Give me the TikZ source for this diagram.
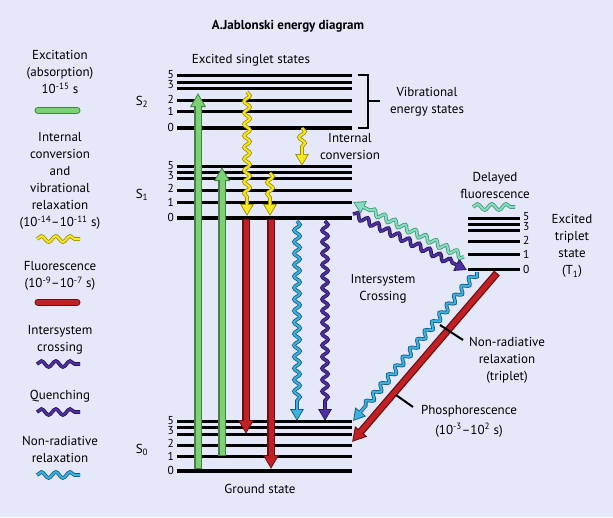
\documentclass[tikz,border=0pt]{standalone}
\usepackage{fontspec}
\setmainfont{PT Sans}
\usepackage{tikz}
\usetikzlibrary{arrows.meta,decorations.pathmorphing}

\definecolor{bgc}{RGB}{228,232,248}
\definecolor{greenC}{RGB}{126,208,116}
\definecolor{greenD}{RGB}{66,130,66}
\definecolor{yellC}{RGB}{246,232,30}
\definecolor{yellD}{RGB}{160,140,0}
\definecolor{redC}{RGB}{192,32,38}
\definecolor{redD}{RGB}{105,15,15}
\definecolor{purC}{RGB}{78,48,160}
\definecolor{purD}{RGB}{38,20,88}
\definecolor{cyanC}{RGB}{60,178,225}
\definecolor{cyanD}{RGB}{20,88,128}
\definecolor{mintC}{RGB}{135,222,190}
\definecolor{mintD}{RGB}{60,150,118}

\tikzset{
	level/.style={line width=3pt},
	zero/.style={line width=4pt},
	num/.style={anchor=east, inner sep=0pt, font=\fontsize{11.5}{12}\selectfont},
	txt/.style={align=center, inner sep=0pt, font=\fontsize{13}{17}\selectfont},
	beamO/.style={draw=#1D, line width=7.5pt, -{Triangle[width=15pt,length=14pt]}},
	beamI/.style={draw=#1C, line width=5pt, shorten <=1.2pt, shorten >=1.8pt, -{Triangle[width=11.5pt,length=11pt]}},
	wavy/.style={decorate, decoration={snake, amplitude=3pt, segment length=11.5pt, post length=15pt}},
	waveO/.style={draw=#1D, line width=3.6pt, wavy, -{Triangle[width=13pt,length=12pt]}},
	waveI/.style={draw=#1C, line width=2pt, wavy, shorten >=1.6pt, -{Triangle[width=10pt,length=9.5pt]}},
	legwave/.style={decorate, decoration={snake, amplitude=3pt, segment length=14.3pt}},
	legO/.style={draw=#1D, line width=3.6pt, legwave},
	legI/.style={draw=#1C, line width=2pt, legwave},
	barO/.style={draw=#1D, line width=7pt, line cap=round},
	barI/.style={draw=#1C, line width=5pt, line cap=round},
	leader/.style={line width=2pt}
}

\begin{document}
\begin{tikzpicture}[x=1pt, y=-1pt]
	\fill[bgc] (0,0) rectangle (613,517);
	\useasboundingbox (0,0) rectangle (613,517);

	\node[txt, font=\bfseries\fontsize{13}{15}\selectfont] (title) at (288,26) {A.Jablonski energy diagram};

	% legend
	\node[txt] (lexc) at (60,72) {Excitation\\(absorption)\\10\textsuperscript{-15} s};
	\coordinate (lg1a) at (38,110); \coordinate (lg1b) at (77,110);
	\node[txt] (lic) at (60,181) {Internal\\conversion\\and\\vibrational\\relaxation\\(10\textsuperscript{-14}–10\textsuperscript{-11} s)};
	\coordinate (lg2a) at (37,239); \coordinate (lg2b) at (80,239);
	\node[txt] (lfl) at (60,276) {Fluorescence\\(10\textsuperscript{-9}–10\textsuperscript{-7} s)};
	\coordinate (lg3a) at (38,302); \coordinate (lg3b) at (77,302);
	\node[txt] (lisc) at (60,340) {Intersystem\\crossing};
	\coordinate (lg4a) at (37,364); \coordinate (lg4b) at (80,364);
	\node[txt] (lqu) at (60,396) {Quenching};
	\coordinate (lg5a) at (37,412); \coordinate (lg5b) at (80,412);
	\node[txt] (lnr) at (60,449.5) {Non-radiative\\relaxation};
	\coordinate (lg6a) at (37,475); \coordinate (lg6b) at (80,475);

	\draw[barO=green] (lg1a) -- (lg1b); \draw[barI=green] (lg1a) -- (lg1b);
	\draw[legO=yell] (lg2a) -- (lg2b); \draw[legI=yell] (lg2a) -- (lg2b);
	\draw[barO=red] (lg3a) -- (lg3b); \draw[barI=red] (lg3a) -- (lg3b);
	\draw[legO=pur] (lg4a) -- (lg4b); \draw[legI=pur] (lg4a) -- (lg4b);
	\draw[legO=pur] (lg5a) -- (lg5b); \draw[legI=pur] (lg5a) -- (lg5b);
	\draw[legO=cyan] (lg6a) -- (lg6b); \draw[legI=cyan] (lg6a) -- (lg6b);

	% singlet levels
	\foreach \y in {75.7,82.3,88.3,100.7,111.7,166.7,172.3,178.3,190.7,202.3,421.7,427.5,434,445,456.7}
		\draw[level] (177,\y) -- (352,\y);
	\foreach \y in {127.7,217.5,470.7}
		\draw[zero] (177,\y) -- (352,\y);
	% triplet levels
	\foreach \y in {218.3,224,230,241.7,254}
		\draw[level] (468,\y) -- (520,\y);
	\draw[level] (468,269.3) -- (520,269.3);

	\foreach \n/\y in {5/74.5,3/85,2/99.5,1/111.7,0/127.7}
		\node[num] (s2n\n) at (174,\y) {\n};
	\foreach \n/\y in {5/165.5,3/175.5,2/188.5,1/202.3,0/217.5}
		\node[num] (s1n\n) at (174,\y) {\n};
	\foreach \n/\y in {5/420.5,3/430.5,2/443.5,1/456.7,0/470.7}
		\node[num] (s0n\n) at (174,\y) {\n};
	\foreach \n/\y in {5/217,3/227,2/240.5,1/254,0/269.3}
		\node[num, anchor=west] (t1n\n) at (523,\y) {\n};

	\node[txt] (s2) at (142,102) {S\textsubscript{2}};
	\node[txt] (s1) at (142,195) {S\textsubscript{1}};
	\node[txt] (s0) at (142,450) {S\textsubscript{0}};

	\node[txt] (singlet) at (251,60) {Excited singlet states};
	\node[txt] (ground) at (260,489) {Ground state};
	\node[txt] (vib) at (427,102) {Vibrational\\energy states};
	\node[txt] (ic) at (350,147) {Internal\\conversion};
	\node[txt] (dfl) at (495,185) {Delayed\\fluorescence};
	\node[txt] (trip) at (572,246) {Excited\\triplet\\state\\(T\textsubscript{1})};
	\node[txt] (isc) at (383,289) {Intersystem\\Crossing};
	\node[txt] (nrt) at (507,360) {Non-radiative\\relaxation\\(triplet)};
	\node[txt] (phos) at (469,421) {Phosphorescence\\[3pt](10\textsuperscript{-3}–10\textsuperscript{2} s)};

	% bracket
	\draw[line width=2.2pt] (358,75) -- (368,75) -- (368,128) -- (358,128);
	\draw[line width=2.2pt] (368,101) -- (380,101);

	% delayed fluorescence sample
	\coordinate (dfa) at (473,207); \coordinate (dfb) at (515,207);
	\draw[legO=mint] (dfa) -- (dfb); \draw[legI=mint] (dfa) -- (dfb);

	% absorption and fluorescence
	\coordinate (g1a) at (198,469); \coordinate (g1b) at (198,93);
	\coordinate (g2a) at (222,456); \coordinate (g2b) at (222,167);
	\coordinate (r1a) at (246,219); \coordinate (r1b) at (246,434);
	\coordinate (r2a) at (271,219); \coordinate (r2b) at (271,469);
	\draw[beamO=green] (g1a) -- (g1b); \draw[beamI=green] (g1a) -- (g1b);
	\draw[beamO=green] (g2a) -- (g2b); \draw[beamI=green] (g2a) -- (g2b);
	\draw[beamO=red] (r1a) -- (r1b); \draw[beamI=red] (r1a) -- (r1b);
	\draw[beamO=red] (r2a) -- (r2b); \draw[beamI=red] (r2a) -- (r2b);

	% radiationless steps
	\coordinate (y1a) at (247,92); \coordinate (y1b) at (247,216);
	\coordinate (y2a) at (270,173); \coordinate (y2b) at (270,216);
	\coordinate (y3a) at (302,128); \coordinate (y3b) at (302,166);
	\coordinate (c1a) at (297,221); \coordinate (c1b) at (297,421);
	\coordinate (q1a) at (325,221); \coordinate (q1b) at (325,421);
	\coordinate (xa) at (353,214); \coordinate (xb) at (467,270);
	\coordinate (ma) at (464,257); \coordinate (mb) at (353,202);
	\coordinate (ta) at (477,272); \coordinate (tb) at (353,421);
	\foreach \a/\b/\col in {y1a/y1b/yell,y2a/y2b/yell,y3a/y3b/yell,c1a/c1b/cyan,q1a/q1b/pur,xa/xb/pur,ma/mb/mint,ta/tb/cyan}{
		\draw[waveO=\col] (\a) -- (\b);
		\draw[waveI=\col] (\a) -- (\b);
	}

	% phosphorescence
	\coordinate (pa) at (497,273); \coordinate (pb) at (352,442);
	\draw[beamO=red] (pa) -- (pb); \draw[beamI=red] (pa) -- (pb);

	% leaders
	\coordinate (nrA) at (440,325); \coordinate (nrB) at (463,340);
	\coordinate (phA) at (396,395); \coordinate (phB) at (413,407);
	\draw[leader] (nrA) -- (nrB);
	\draw[leader] (phA) -- (phB);
\end{tikzpicture}
\end{document}
